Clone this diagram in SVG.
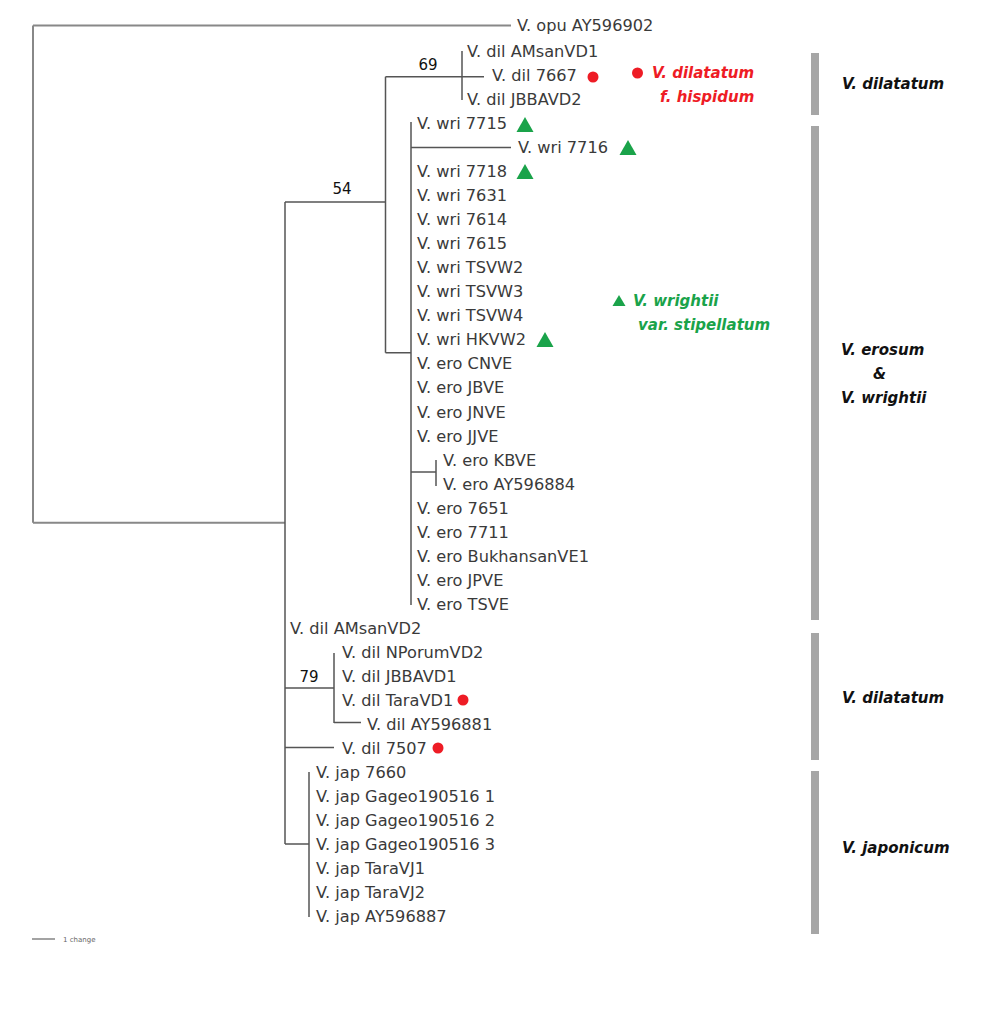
<svg xmlns="http://www.w3.org/2000/svg" width="1008" height="1012" viewBox="0 0 1008 1012">
<style>
.t{font-family:"DejaVu Sans","Liberation Sans",sans-serif;font-size:16.2px;fill:#3a3a3a}
.b{font-family:"DejaVu Sans","Liberation Sans",sans-serif;font-size:15px;fill:#111}
.c{font-family:"DejaVu Sans","Liberation Sans",sans-serif;font-size:15px;font-weight:bold;font-style:italic}
.ln{fill:none;stroke:#555;stroke-width:1.5}
.lo{fill:none;stroke:#888;stroke-width:2}
.bar{fill:#a6a6a6}
.dot{fill:#ee1c25}
.tri{fill:#1aa34a}
</style>
<rect width="1008" height="1012" fill="#fff"/>
<g id="connectors">
<path class="lo" d="M33,25.5 V522.7 M33,25.5 H511 M33,522.7 H285"/>
<path class="ln" d="M285,202 V844 M285,202 H385.5 M385.5,76.7 V352.7 M385.5,76.7 H484 M462,51 V100"/>
<path class="ln" d="M385.5,352.7 H411 M411,122 V605 M411,147.6 H511 M411,472 H436 M436,460 V486"/>
<path class="ln" d="M285,688 H334 M334,653 V723 M334,722.5 H361 M285,747.5 H334"/>
<path class="ln" d="M285,844 H309 M309,772 V917"/>
<line x1="32" y1="939" x2="55" y2="939" stroke="#666" stroke-width="1.2"/>
</g>
<g id="support">
<text class="b" x="342" y="194" text-anchor="middle">54</text>
<text class="b" x="428" y="70" text-anchor="middle">69</text>
<text class="b" x="309" y="682" text-anchor="middle">79</text>
</g>
<g id="taxa">
<g id="n0"><text class="t" x="517" y="31">V. opu AY596902</text></g>
<g id="n1"><text class="t" x="467" y="57">V. dil AMsanVD1</text></g>
<g id="n2"><text class="t" x="492" y="81">V. dil 7667</text><circle class="dot" cx="593" cy="77" r="5.5"/></g>
<g id="n3"><text class="t" x="467" y="105">V. dil JBBAVD2</text></g>
<g id="n4"><text class="t" x="417" y="129">V. wri 7715</text><polygon class="tri" points="525,117 533.5,132 516.5,132"/></g>
<g id="n5"><text class="t" x="518" y="153">V. wri 7716</text><polygon class="tri" points="628,140 636.5,155 619.5,155"/></g>
<g id="n6"><text class="t" x="417" y="177">V. wri 7718</text><polygon class="tri" points="525,164 533.5,179 516.5,179"/></g>
<g id="n7"><text class="t" x="417" y="201">V. wri 7631</text></g>
<g id="n8"><text class="t" x="417" y="225">V. wri 7614</text></g>
<g id="n9"><text class="t" x="417" y="249">V. wri 7615</text></g>
<g id="n10"><text class="t" x="417" y="273">V. wri TSVW2</text></g>
<g id="n11"><text class="t" x="417" y="297">V. wri TSVW3</text></g>
<g id="n12"><text class="t" x="417" y="321">V. wri TSVW4</text></g>
<g id="n13"><text class="t" x="417" y="345">V. wri HKVW2</text><polygon class="tri" points="545,332 553.5,347 536.5,347"/></g>
<g id="n14"><text class="t" x="417" y="369">V. ero CNVE</text></g>
<g id="n15"><text class="t" x="417" y="393">V. ero JBVE</text></g>
<g id="n16"><text class="t" x="417" y="418">V. ero JNVE</text></g>
<g id="n17"><text class="t" x="417" y="442">V. ero JJVE</text></g>
<g id="n18"><text class="t" x="443" y="466">V. ero KBVE</text></g>
<g id="n19"><text class="t" x="443" y="490">V. ero AY596884</text></g>
<g id="n20"><text class="t" x="417" y="514">V. ero 7651</text></g>
<g id="n21"><text class="t" x="417" y="538">V. ero 7711</text></g>
<g id="n22"><text class="t" x="417" y="562">V. ero BukhansanVE1</text></g>
<g id="n23"><text class="t" x="417" y="586">V. ero JPVE</text></g>
<g id="n24"><text class="t" x="417" y="610">V. ero TSVE</text></g>
<g id="n25"><text class="t" x="290" y="634">V. dil AMsanVD2</text></g>
<g id="n26"><text class="t" x="342" y="658">V. dil NPorumVD2</text></g>
<g id="n27"><text class="t" x="342" y="682">V. dil JBBAVD1</text></g>
<g id="n28"><text class="t" x="342" y="706">V. dil TaraVD1</text><circle class="dot" cx="463" cy="700" r="5.5"/></g>
<g id="n29"><text class="t" x="367" y="730">V. dil AY596881</text></g>
<g id="n30"><text class="t" x="342" y="754">V. dil 7507</text><circle class="dot" cx="438" cy="748" r="5.5"/></g>
<g id="n31"><text class="t" x="316" y="778">V. jap 7660</text></g>
<g id="n32"><text class="t" x="316" y="802">V. jap Gageo190516 1</text></g>
<g id="n33"><text class="t" x="316" y="826">V. jap Gageo190516 2</text></g>
<g id="n34"><text class="t" x="316" y="850">V. jap Gageo190516 3</text></g>
<g id="n35"><text class="t" x="316" y="874">V. jap TaraVJ1</text></g>
<g id="n36"><text class="t" x="316" y="898">V. jap TaraVJ2</text></g>
<g id="n37"><text class="t" x="316" y="922">V. jap AY596887</text></g>
</g>
<g id="legend-red">
<circle class="dot" cx="637.5" cy="73" r="5.5"/>
<text class="c" x="652" y="78" fill="#ee1c25">V. dilatatum</text>
<text class="c" x="660" y="102" fill="#ee1c25">f. hispidum</text>
</g>
<g id="legend-green">
<polygon class="tri" points="619,295 625.5,306 612.5,306"/>
<text class="c" x="633" y="306" fill="#1aa34a">V. wrightii</text>
<text class="c" x="638" y="330" fill="#1aa34a">var. stipellatum</text>
</g>
<g id="clade-bars">
<rect class="bar" x="811" y="53" width="8" height="62"/>
<rect class="bar" x="811" y="126" width="8" height="494"/>
<rect class="bar" x="811" y="633" width="8" height="127"/>
<rect class="bar" x="811" y="771" width="8" height="163"/>
</g>
<g id="clade-labels">
<text class="c" x="842" y="89" fill="#111">V. dilatatum</text>
<text class="c" x="841" y="355" fill="#111">V. erosum</text>
<text class="c" x="873" y="379" fill="#111">&amp;</text>
<text class="c" x="841" y="403" fill="#111">V. wrightii</text>
<text class="c" x="842" y="703" fill="#111">V. dilatatum</text>
<text class="c" x="842" y="853" fill="#111">V. japonicum</text>
</g>
<g id="scale">
<text x="63" y="942" font-family="DejaVu Sans, sans-serif" font-size="7" fill="#666">1 change</text>
</g>
</svg>
